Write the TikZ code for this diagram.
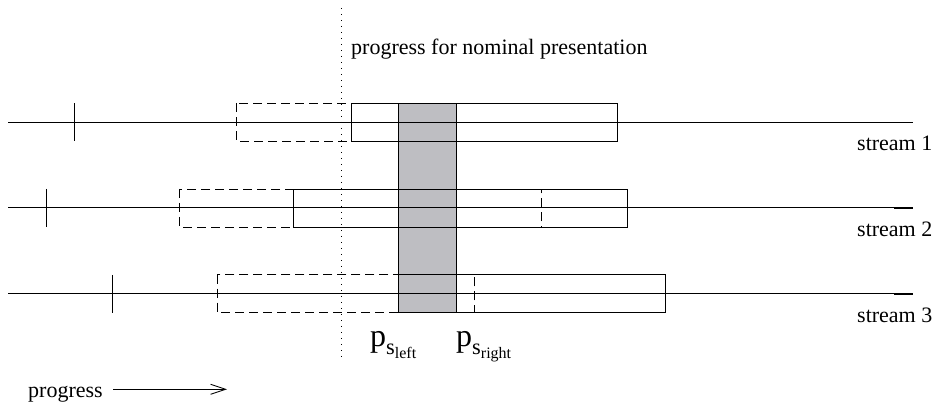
\documentclass[tikz,border=0pt]{standalone}
\usepackage{amsmath}
\usepackage{fontspec}
\setmainfont{Liberation Serif}
\usetikzlibrary{arrows.meta}
\definecolor{bandgrey}{RGB}{190,190,194}
\tikzset{
  lbl/.style={inner sep=0pt, anchor=base west, font=\fontsize{22}{26}\selectfont},
  plbl/.style={inner sep=0pt, anchor=base west, font=\fontsize{32}{36}\selectfont},
  streamline/.style={line width=0.9pt},
  tickmark/.style={line width=0.9pt},
  nominal/.style={line width=0.9pt},
  shifted/.style={line width=0.9pt, dash pattern=on 9pt off 5pt},
  dotline/.style={line width=1pt, dash pattern=on 1pt off 5pt},
}
\begin{document}
\begin{tikzpicture}[x=1pt,y=-1pt]
\useasboundingbox (0,0) rectangle (932,403);
% grey selection band
\fill[bandgrey] (398.7,103.3) rectangle (456,312.7);
\draw[line width=0.9pt] (398.7,103.3) rectangle (456,312.7);
% stream lines
\draw[streamline] (8,122.3) -- (913,122.3);
\draw[streamline] (8,207.7) -- (913,207.7);
\draw[streamline] (8,293.7) -- (913,293.7);
\draw[line width=1.8pt] (894,207.7) -- (913,207.7);
\draw[line width=1.8pt] (894,293.7) -- (913,293.7);
% ticks
\draw[tickmark] (74.7,103.3) -- (74.7,141.3);
\draw[tickmark] (46,189) -- (46,226.7);
\draw[tickmark] (112.7,275) -- (112.7,312.7);
% dashed boxes
\draw[shifted] (236.3,103.3) rectangle (456,141.3);
\draw[shifted] (179.3,189) rectangle (541.7,227);
\draw[shifted] (217,274.7) rectangle (474.7,312.7);
% solid boxes
\draw[nominal] (351,103.3) rectangle (617.7,141.3);
\draw[nominal] (293.3,189) rectangle (627.3,227);
\draw[nominal] (398.7,274.7) rectangle (665.7,312.7);
% dotted line
\draw[dotline] (341.7,8) -- (341.7,360);
% labels
\node[lbl] (nom) at (351,55) {progress for nominal presentation};
\node[lbl] (s1) at (857,151) {stream 1};
\node[lbl] (s2) at (857,237) {stream 2};
\node[lbl] (s3) at (857,323) {stream 3};
\node[plbl] (pl) at (370,347) {$\text{p}_{\text{s}_{\text{left}}}$};
\node[plbl] (pr) at (456,347) {$\text{p}_{\text{s}_{\text{right}}}$};
\node[lbl] (prog) at (28,397) {progress};
\coordinate (arrS) at (113,389.3);
\coordinate (arrE) at (227,389.3);
\draw[line width=0.9pt, -{Straight Barb[length=15pt,width=10pt,line width=0.9pt]}] (arrS) -- (arrE);
\end{tikzpicture}
\end{document}
